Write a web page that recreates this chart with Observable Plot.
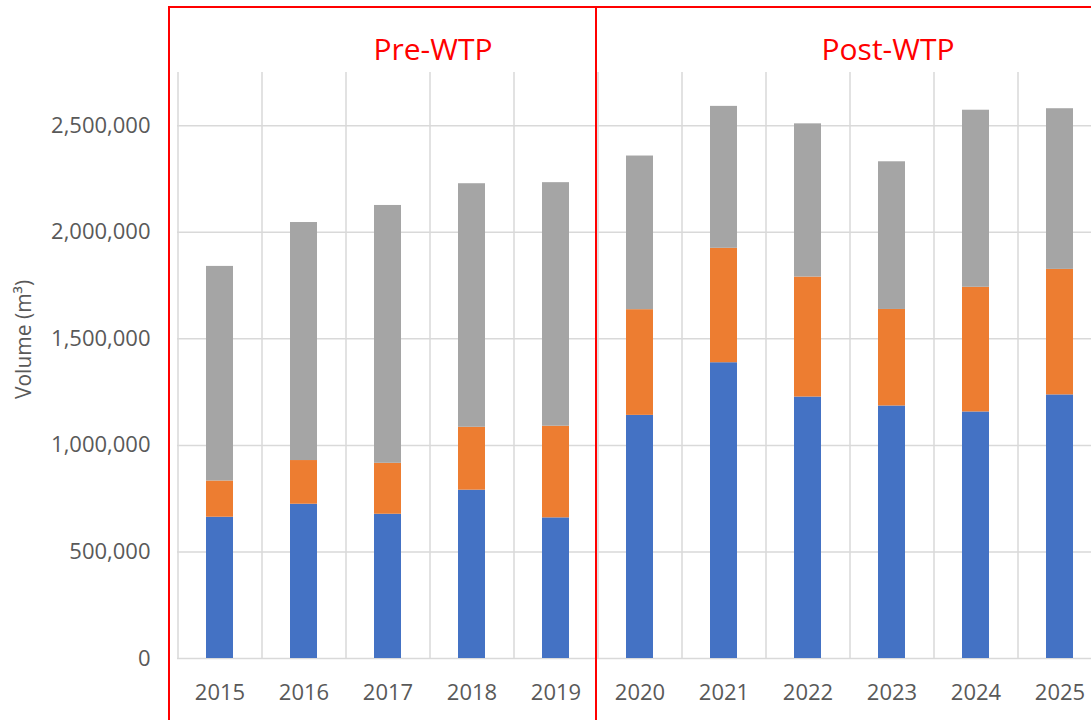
<!DOCTYPE html>
<html>
<head>
<meta charset="utf-8">
<script src="https://cdn.jsdelivr.net/npm/d3@7"></script>
<script src="https://cdn.jsdelivr.net/npm/@observablehq/plot@0.6"></script>
<style>
  html, body { margin: 0; padding: 0; background: #fff; overflow: hidden; }
  #wrap { position: relative; width: 1091px; height: 720px; overflow: hidden; }
  #wrap svg { max-width: none !important; }
  #wrap svg.overlay { position: absolute; left: 0; top: 0; pointer-events: none; }
</style>
</head>
<body>
<div id="wrap"></div>
<script>
// ---- data ----
const years = ["2015","2016","2017","2018","2019","2020","2021","2022","2023","2024","2025"];
const seriesNames = ["Series 1", "Series 2", "Series 3"];
const series1 = [663000, 724000, 677000, 790000, 660000, 1141000, 1388000, 1227000, 1185000, 1157000, 1237000];
const series2 = [170000, 205000, 239000, 295000, 430000, 496000, 537000, 563000, 453000, 585000, 589000];
const series3 = [1007000, 1117000, 1210000, 1143000, 1143000, 721000, 666000, 719000, 693000, 831000, 754000];
const seriesColors = ["#4472C4", "#ED7D31", "#A5A5A5"];
const yTicks = [0, 500000, 1000000, 1500000, 2000000, 2500000];
const periodLabels = ["Pre-WTP", "Post-WTP"];
const yLabel = "Volume (m³)";

const rows = [];
[series1, series2, series3].forEach((vals, si) => {
  vals.forEach((v, i) => rows.push({year: years[i], series: seriesNames[si], value: v}));
});

const W = 1101, H = 720, ML = 177, MR = 0, MT = 72, MB = 62;
const step = (W - ML - MR) / years.length;
const font = "'Open Sans', 'Noto Sans', sans-serif";

const chart = Plot.plot({
  width: W,
  height: H,
  marginLeft: ML,
  marginRight: MR,
  marginTop: MT,
  marginBottom: MB,
  style: {fontFamily: font, background: "transparent", overflow: "visible", maxWidth: "none"},
  x: {domain: years, paddingInner: 0.68, paddingOuter: 0.34, label: null},
  y: {domain: [0, 2750000], label: null},
  color: {domain: seriesNames, range: seriesColors},
  marks: [
    Plot.ruleY(yTicks, {stroke: "#D9D9D9", strokeWidth: 1.5}),
    Plot.ruleX(years, {x: d => d, dx: -step / 2, stroke: "#D9D9D9", strokeWidth: 1.5}),
    Plot.barY(rows, {x: "year", y: "value", fill: "series", order: seriesNames}),
    Plot.axisY({ticks: yTicks, tickFormat: d3.format(","), tickSize: 0, tickPadding: 27, fontSize: 22, color: "#595959", label: null}),
    Plot.axisX({tickSize: 0, tickPadding: 26, fontSize: 22, color: "#595959", label: null}),
    Plot.text([yLabel], {frameAnchor: "left", textAnchor: "middle", dx: -153, dy: -26, rotate: -90, fontSize: 21, fill: "#595959", text: d => d})
  ]
});
document.getElementById("wrap").appendChild(chart);

// ---- annotation overlay: red period boxes and labels ----
const ov = d3.select("#wrap").append("svg")
  .attr("class", "overlay")
  .attr("width", 1091).attr("height", 720);
const red = "#FF0000";
ov.append("line").attr("x1", 169).attr("x2", 1091).attr("y1", 7).attr("y2", 7).attr("stroke", red).attr("stroke-width", 2);
ov.append("line").attr("x1", 169).attr("x2", 169).attr("y1", 6).attr("y2", 720).attr("stroke", red).attr("stroke-width", 2);
ov.append("line").attr("x1", 596).attr("x2", 596).attr("y1", 6).attr("y2", 720).attr("stroke", red).attr("stroke-width", 2);
const labelPos = [433, 888];
periodLabels.forEach((t, i) => {
  ov.append("text").attr("x", labelPos[i]).attr("y", 60)
    .attr("text-anchor", "middle").attr("fill", red)
    .attr("font-family", font).attr("font-size", 30).text(t);
});
</script>
</body>
</html>
